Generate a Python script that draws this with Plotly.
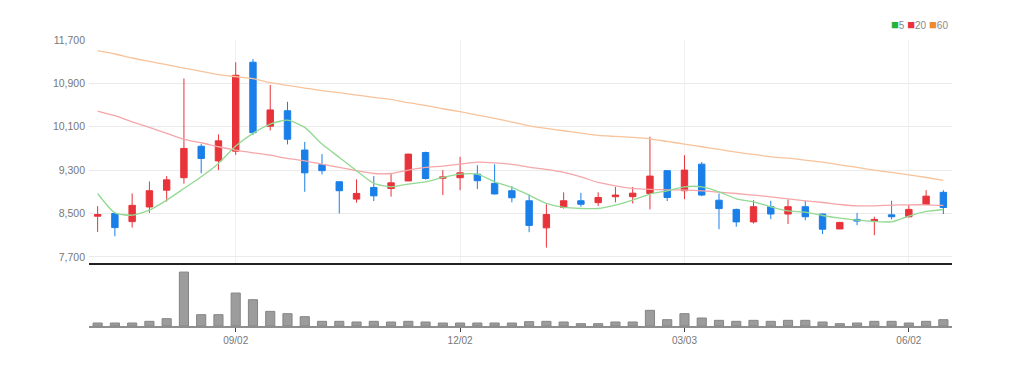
import pandas as pd
import plotly.graph_objects as go

# Weekly candles (Mon dates)
dates = pd.date_range("2024-07-08", periods=50, freq="7D")

opens = [8450, 8500, 8350, 8620, 8930, 9160, 9740, 9470, 9650, 11290,
         10110, 10395, 9670, 9400, 9085, 8765, 8980, 8960, 9100, 9625,
         9150, 9160, 9225, 9055, 8920, 8735, 8235, 8610, 8735, 8700,
         8810, 8810, 8870, 9290, 8920, 9410, 8745, 8575, 8345, 8625,
         8490, 8625, 8490, 8215, 8390, 8360, 8475, 8440, 8665, 8890]
highs = [8635, 8520, 8870, 9090, 9190, 10990, 9780, 9960, 11290, 11350,
         10870, 10560, 9820, 9595, 9090, 9130, 9190, 9240, 9600, 9640,
         9300, 9545, 9390, 9405, 9005, 8855, 8670, 8890, 8880, 8890,
         8990, 8990, 9915, 9300, 9575, 9450, 8870, 8590, 8745, 8735,
         8760, 8735, 8500, 8345, 8510, 8440, 8735, 8655, 8930, 8930]
lows = [8160, 8080, 8240, 8510, 8720, 9050, 9240, 9300, 9580, 9945,
        10030, 9775, 8900, 9220, 8500, 8700, 8730, 8810, 9100, 9125,
        8840, 8930, 8950, 8855, 8705, 8155, 7870, 8590, 8625, 8640,
        8705, 8685, 8575, 8730, 8765, 8820, 8210, 8255, 8315, 8395,
        8305, 8375, 8120, 8210, 8285, 8100, 8395, 8425, 8655, 8490]
closes = [8480, 8240, 8650, 8920, 9120, 9700, 9515, 9840, 11050, 9990,
          10410, 9870, 9250, 9290, 8920, 8870, 8825, 9065, 9595, 9145,
          9175, 9250, 9105, 8860, 8790, 8280, 8480, 8735, 8670, 8795,
          8840, 8875, 9190, 8795, 9300, 8840, 8590, 8345, 8625, 8490,
          8625, 8440, 8210, 8335, 8360, 8390, 8440, 8575, 8820, 8610]

ma5 = [8869, 8512, 8469, 8561, 8746, 8961, 9177, 9423, 9743, 9977,
       10149, 10223, 10088, 9780, 9534, 9288, 9054, 8992, 9042, 9085,
       9165, 9226, 9226, 9085, 8980, 8838, 8685, 8611, 8592, 8592,
       8654, 8746, 8857, 8918, 8992, 8992, 8900, 8771, 8715, 8623,
       8549, 8524, 8463, 8414, 8377, 8352, 8346, 8451, 8537, 8574]
ma20 = [10389, 10303, 10192, 10088, 9977, 9866, 9805, 9731, 9669, 9620,
        9577, 9515, 9472, 9411, 9349, 9288, 9238, 9238, 9300, 9349,
        9374, 9411, 9448, 9435, 9405, 9355, 9312, 9257, 9177, 9072,
        9011, 8962, 8943, 8937, 8931, 8918, 8894, 8869, 8838, 8808,
        8771, 8734, 8703, 8666, 8641, 8641, 8654, 8660, 8660, 8648]
ma60 = [11503, 11442, 11368, 11306, 11245, 11183, 11122, 11060, 11023, 10986,
        10912, 10863, 10814, 10765, 10728, 10685, 10642, 10605, 10543, 10494,
        10432, 10377, 10315, 10254, 10186, 10118, 10069, 10026, 9983, 9940,
        9921, 9903, 9878, 9829, 9780, 9731, 9681, 9632, 9589, 9546,
        9521, 9485, 9448, 9398, 9349, 9300, 9257, 9214, 9164, 9109]

volumes = [9, 9, 9, 14, 22, 162, 34, 34, 99, 79,
           44, 37, 28, 14, 14, 12, 14, 12, 14, 12,
           9, 9, 9, 9, 9, 13, 14, 12, 7, 7,
           12, 12, 47, 19, 37, 24, 17, 14, 17, 14,
           17, 17, 12, 7, 9, 14, 14, 9, 14, 19]

x_tick_dates = ["2024-09-02", "2024-12-02", "2025-03-03", "2025-06-02"]
x_tick_text = ["09/02", "12/02", "03/03", "06/02"]
y_tick_vals = [7700, 8500, 9300, 10100, 10900, 11700]
y_tick_text = ["7,700", "8,500", "9,300", "10,100", "10,900", "11,700"]

UP = "#e8333a"
DOWN = "#1a7fe8"
FONT = "Liberation Sans, Arial, sans-serif"

fig = go.Figure()

fig.add_trace(go.Scatter(x=dates, y=ma60, mode="lines",
                         line=dict(color="#f8c39a", width=1.3, shape="spline", smoothing=0.6),
                         showlegend=False, hoverinfo="skip"))
fig.add_trace(go.Scatter(x=dates, y=ma20, mode="lines",
                         line=dict(color="#f5a6a8", width=1.3, shape="spline", smoothing=0.6),
                         showlegend=False, hoverinfo="skip"))
fig.add_trace(go.Scatter(x=dates, y=ma5, mode="lines",
                         line=dict(color="#92d992", width=1.3, shape="spline", smoothing=0.6),
                         showlegend=False, hoverinfo="skip"))

fig.add_trace(go.Candlestick(
    x=dates, open=opens, high=highs, low=lows, close=closes,
    increasing=dict(line=dict(color=UP, width=1), fillcolor=UP),
    decreasing=dict(line=dict(color=DOWN, width=1), fillcolor=DOWN),
    whiskerwidth=0, showlegend=False, xaxis="x", yaxis="y"))

week_ms = 7 * 24 * 3600 * 1000
fig.add_trace(go.Bar(x=dates, y=volumes, xaxis="x2", yaxis="y2",
                     marker=dict(color="#9c9c9c", line=dict(color="#858585", width=1)),
                     width=0.53 * week_ms, showlegend=False))

x_range = [dates[0] - pd.Timedelta(days=3.5), dates[-1] + pd.Timedelta(days=3.5)]

SQ = '<span style="color:{};font-size:13px">■</span>'

# page body has an 8px margin, so the figure is sized to fit the 1014x366 window
fig.update_layout(
    width=998, height=350,
    margin=dict(l=81, r=54, t=32, b=32, autoexpand=False),
    paper_bgcolor="white", plot_bgcolor="white",
    boxgap=0.47,
    font=dict(family=FONT, size=10, color="#777777"),
    xaxis=dict(type="date", range=x_range, domain=[0, 1], anchor="y",
               tickvals=x_tick_dates, ticktext=x_tick_text, showticklabels=False,
               showgrid=True, gridcolor="#f0f0f0", gridwidth=1,
               showline=True, linecolor="#222222", linewidth=2, ticks="",
               rangeslider=dict(visible=False), zeroline=False),
    yaxis=dict(domain=[0.219, 1], range=[7580, 11700], anchor="x",
               tickvals=y_tick_vals, ticktext=y_tick_text,
               showgrid=True, gridcolor="#ebebeb", gridwidth=1,
               zeroline=False, showline=False, ticks="", ticklabelstandoff=3,
               tickfont=dict(family=FONT, size=10.5, color="#777777")),
    xaxis2=dict(type="date", range=x_range, domain=[0, 1], anchor="y2", matches="x",
                tickvals=x_tick_dates, ticktext=x_tick_text, showgrid=False,
                showline=True, linecolor="#8f8f8f", linewidth=2,
                ticks="outside", ticklen=4, tickcolor="#444", tickwidth=1,
                tickfont=dict(family=FONT, size=10, color="#777777"), zeroline=False),
    yaxis2=dict(domain=[0, 0.213], range=[0, 183], anchor="x2",
                showticklabels=False, showgrid=False, zeroline=False, showline=False),
    annotations=[dict(
        xref="paper", yref="paper", x=0.998, y=1.054, xanchor="right", yanchor="middle",
        showarrow=False,
        text=(SQ.format("#22b33a") + "5 " + SQ.format("#e8333a") + "20 "
              + SQ.format("#f08a2a") + "60"),
        font=dict(family=FONT, size=10, color="#8a8a8a"))],
)

fig.write_html("out.html")
